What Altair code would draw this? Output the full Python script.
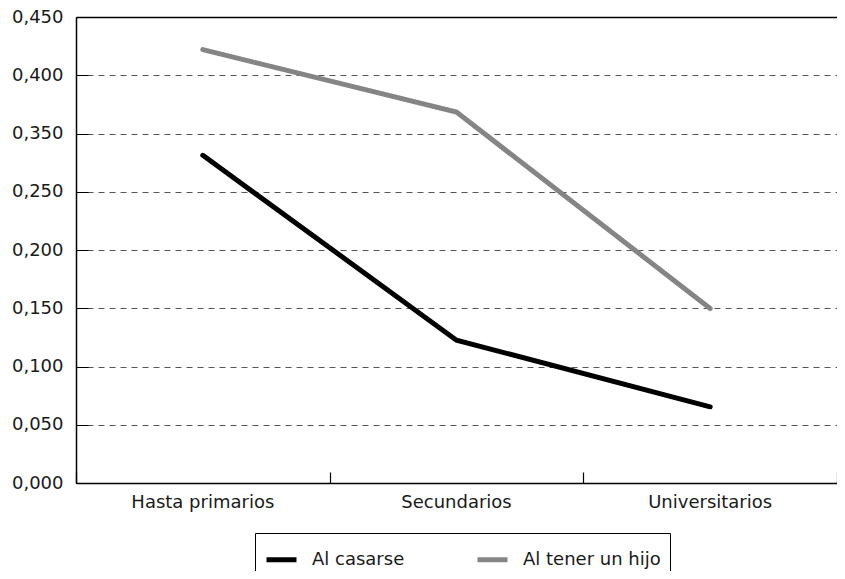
import altair as alt
import pandas as pd

categories = ["Hasta primarios", "Secundarios", "Universitarios"]
al_casarse = [0.2813, 0.1226, 0.0654]
al_tener_hijo = [0.3720, 0.3184, 0.1498]
series_names = ["Al casarse", "Al tener un hijo"]
series_colors = ["#000000", "#858585"]
tick_values = [0.0, 0.05, 0.10, 0.15, 0.20, 0.25, 0.30, 0.35, 0.40]
tick_labels = ["0,000", "0,050", "0,100", "0,150", "0,200", "0,250", "0,350", "0,400", "0,450"]

rows = []
for c, v in zip(categories, al_casarse):
    rows.append({"cat": c, "serie": series_names[0], "val": v})
for c, v in zip(categories, al_tener_hijo):
    rows.append({"cat": c, "serie": series_names[1], "val": v})
df = pd.DataFrame(rows)

FONT = "DejaVu Sans"
FS = 18
label_arr = "[" + ",".join("'" + t + "'" for t in tick_labels) + "]"

xscale = alt.Scale(domain=categories, paddingInner=0, paddingOuter=0)
yscale = alt.Scale(domain=[0, 0.40], nice=False)

color = alt.Color(
    "serie:N",
    scale=alt.Scale(domain=series_names, range=series_colors),
    legend=alt.Legend(
        title=None, orient="none", direction="horizontal",
        legendX=179, legendY=516,
        symbolType="stroke", symbolStrokeWidth=5, symbolSize=900,
        labelFont=FONT, labelFontSize=FS, labelColor="#1a1a1a",
        labelOffset=13, columnPadding=62, padding=9,
        strokeColor="#000000", fillColor="#ffffff",
    ),
)

base = alt.Chart(df)

lines = base.mark_line(strokeWidth=5, strokeCap="round", strokeJoin="miter").encode(
    x=alt.X("cat:N", sort=categories, scale=xscale, axis=alt.Axis(
        title=None, orient="bottom", ticks=False, labelAngle=0,
        labelFont=FONT, labelFontSize=FS, labelColor="#1a1a1a", labelPadding=10,
        domainColor="#000000", domainWidth=1.5, grid=False,
    )),
    y=alt.Y("val:Q", scale=yscale, axis=alt.Axis(
        title=None, orient="left", values=tick_values, ticks=False,
        labelExpr=label_arr + "[round(datum.value*20)]",
        labelFont=FONT, labelFontSize=FS, labelColor="#1a1a1a", labelPadding=13,
        domainColor="#000000", domainWidth=1.5,
        grid=True,
        gridColor={"condition": {"test": "datum.value > 0.399", "value": "#000000"}, "value": "#555555"},
        gridDash={"condition": {"test": "datum.value > 0.399", "value": []}, "value": [6, 5]},
        gridWidth={"condition": {"test": "datum.value > 0.399", "value": 1.5}, "value": 1},
    )),
    color=color,
)

ticks_layer = base.mark_line(opacity=0).encode(
    x=alt.X("cat:N", sort=categories, scale=xscale, axis=alt.Axis(
        title=None, orient="top", offset=-466, labels=False, domain=False, grid=False,
        ticks=True, tickBand="extent", tickSize=11, tickColor="#000000", tickWidth=1.2,
    )),
    y=alt.Y("val:Q", scale=yscale, axis=alt.Axis(
        title=None, orient="right", offset=-761, labels=False, domain=False, grid=False,
        values=tick_values, ticks=True, tickSize=12, tickColor="#000000", tickWidth=1,
    )),
    detail="serie:N",
)

chart = alt.layer(lines, ticks_layer).resolve_axis(x="independent", y="independent").properties(
    width=761, height=466,
    autosize=alt.AutoSizeParams(type="none"),
    padding={"left": 68, "top": 9, "right": 0, "bottom": 88},
).configure_view(stroke=None).configure(background="#ffffff")

chart.save("out.html", embed_options={"renderer": "svg", "actions": False})
